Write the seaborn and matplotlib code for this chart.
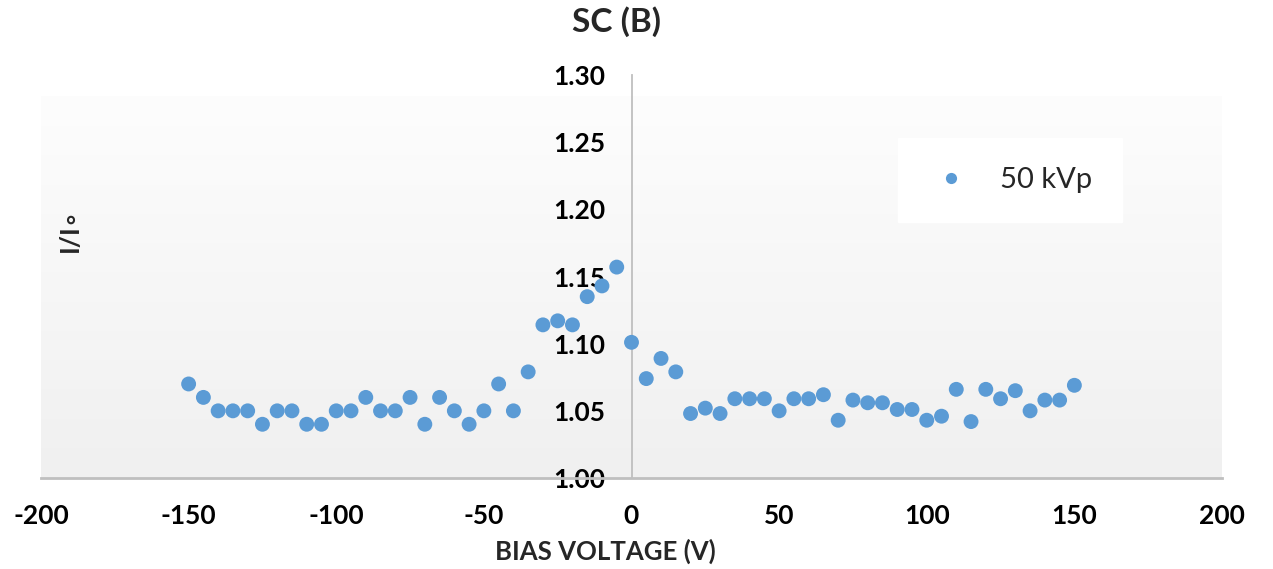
import numpy as np
import pandas as pd
import matplotlib
matplotlib.use("Agg")
import matplotlib.pyplot as plt
import seaborn as sns

# ---- data ----
bias_voltage = list(range(-150, 155, 5))
ratio_50kvp = [
    1.070, 1.060, 1.050, 1.050, 1.050, 1.040, 1.050, 1.050, 1.040, 1.040,   # -150 .. -105
    1.050, 1.050, 1.060, 1.050, 1.050, 1.060, 1.040, 1.060, 1.050, 1.040,   # -100 .. -55
    1.050, 1.070, 1.050, 1.079, 1.114, 1.117, 1.114, 1.135, 1.143, 1.157,   # -50 .. -5
    1.101, 1.074, 1.089, 1.079, 1.048, 1.052, 1.048, 1.059, 1.059, 1.059,   # 0 .. 45
    1.050, 1.059, 1.059, 1.062, 1.043, 1.058, 1.056, 1.056, 1.051, 1.051,   # 50 .. 95
    1.043, 1.046, 1.066, 1.042, 1.066, 1.059, 1.065, 1.050, 1.058, 1.058,   # 100 .. 145
    1.069,                                                                   # 150
]
series_name = "50 kVp"
x_ticks = [-200, -150, -100, -50, 0, 50, 100, 150, 200]
y_ticks = [1.00, 1.05, 1.10, 1.15, 1.20, 1.25, 1.30]
title = "SC (B)"
x_label = "BIAS VOLTAGE (V)"
y_label = "I/I\u2218"

df = pd.DataFrame({"bias": bias_voltage, "ratio": ratio_50kvp, "series": series_name})

sns.set_theme(style="white")
plt.rcParams["font.family"] = ["Lato", "DejaVu Sans"]

W, H = 1273, 569
fig = plt.figure(figsize=(W / 100, H / 100), dpi=100)
ax = fig.add_axes([41 / W, 1 - 478 / H, (1222 - 41) / W, (478 - 75) / H])

# plot-area gradient background
grad = np.linspace(0, 1, 256).reshape(-1, 1)
cmap = matplotlib.colors.LinearSegmentedColormap.from_list("bg", ["#fdfdfd", "#f0f0f0"])
ax.imshow(grad, extent=[-200, 200, 1.0, 1.284], aspect="auto", cmap=cmap,
          origin="upper", zorder=0, interpolation="bicubic")

blue = "#5B9BD5"
sns.scatterplot(data=df, x="bias", y="ratio", hue="series", palette=[blue],
                s=115, edgecolor="none", linewidth=0, ax=ax, zorder=3)

ax.set_xlim(-200, 200)
ax.set_ylim(1.0, 1.30)
ax.set_xticks(x_ticks)
ax.set_xticklabels([str(v) for v in x_ticks])
ax.set_yticks(y_ticks)
ax.set_yticklabels([f"{v:.2f}" for v in y_ticks])

for s in ["top", "right"]:
    ax.spines[s].set_visible(False)
ax.spines["left"].set_position(("data", 0))
ax.spines["left"].set_color("#bfbfbf")
ax.spines["left"].set_linewidth(1.3)
ax.spines["left"].set_zorder(2)
ax.spines["bottom"].set_color("#bfbfbf")
ax.spines["bottom"].set_linewidth(2.0)
ax.tick_params(axis="both", length=0, labelsize=19, colors="black")
ax.tick_params(axis="x", pad=19)
ax.tick_params(axis="y", pad=19)
for lab in ax.get_xticklabels() + ax.get_yticklabels():
    lab.set_fontweight("bold")
ax.set_facecolor("white")
ax.grid(False)

ax.set_xlabel(x_label, fontsize=18.5, fontweight="bold")
ax.xaxis.set_label_coords((605 - 41) / (1222 - 41), -0.182)
ax.xaxis.label.set_verticalalignment("center")
ax.set_ylabel(y_label, fontsize=19, fontweight="bold")
ax.yaxis.set_label_coords(0.035, 0.615)

fig.text(617 / W, 1 - 22 / H, title, ha="center", va="center",
         fontsize=24, fontweight="bold")

leg = ax.legend(loc="center", bbox_to_anchor=((1010 - 41) / 1181, (478 - 180) / 403),
                frameon=True, fontsize=21, markerscale=0.75, handletextpad=0.9,
                handlelength=1.6, borderpad=1.0, borderaxespad=0, title=None)
leg.get_frame().set_facecolor("white")
leg.get_frame().set_edgecolor("white")
leg.get_frame().set_alpha(1)
leg.get_frame().set_boxstyle("square", pad=0.0)
for t in leg.get_texts():
    t.set_color("#262626")

fig.savefig("out.png", dpi=100)
